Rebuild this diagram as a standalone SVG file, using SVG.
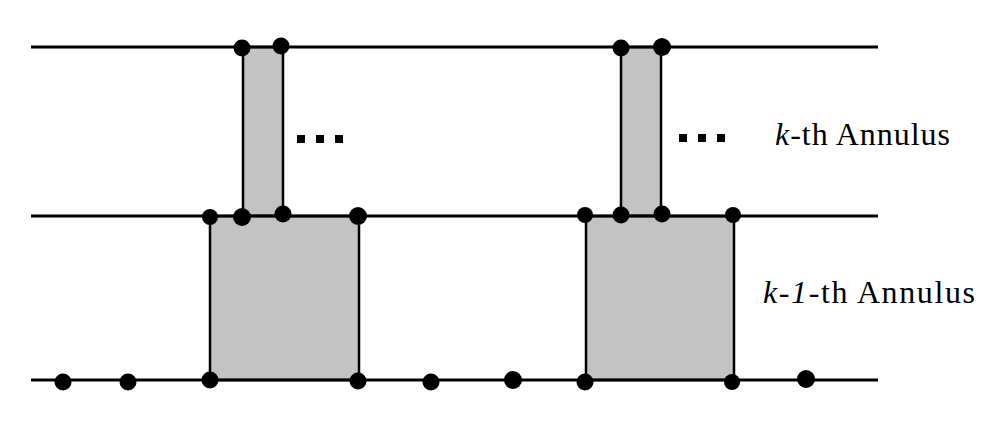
<svg xmlns="http://www.w3.org/2000/svg" width="995" height="427" viewBox="0 0 995 427">
<style>
.ln{stroke:#000;stroke-width:3;fill:none}
.reg{fill:#c3c3c3;stroke:#000;stroke-width:2.5}
.dot{fill:#000}
.sq{fill:#000}
.lbl{font-family:"Liberation Serif","DejaVu Serif",serif;font-size:32px;fill:#000}
</style>
<rect width="995" height="427" fill="#fff"/>
<g id="regions">
<rect id="strip-left" class="reg" x="243" y="47" width="40" height="169"/>
<rect id="box-left" class="reg" x="210" y="216" width="149" height="164"/>
<rect id="strip-right" class="reg" x="621" y="47" width="40" height="169"/>
<rect id="box-right" class="reg" x="586" y="216" width="148" height="164"/>
</g>
<g id="connectors">
<line class="ln" x1="31" y1="47" x2="878" y2="47"/>
<line class="ln" x1="31" y1="216" x2="878" y2="216"/>
<line class="ln" x1="31" y1="380" x2="878" y2="380"/>
</g>
<g id="dots">
<circle class="dot" cx="242" cy="48" r="8.5"/>
<circle class="dot" cx="281" cy="46" r="8.5"/>
<circle class="dot" cx="621" cy="48" r="8.5"/>
<circle class="dot" cx="662" cy="47" r="9"/>
<circle class="dot" cx="210" cy="217" r="8"/>
<circle class="dot" cx="242" cy="217" r="9"/>
<circle class="dot" cx="283" cy="214" r="8.5"/>
<circle class="dot" cx="358" cy="216" r="9"/>
<circle class="dot" cx="585" cy="215" r="8"/>
<circle class="dot" cx="621" cy="215" r="8.5"/>
<circle class="dot" cx="662" cy="214" r="8.5"/>
<circle class="dot" cx="733" cy="215" r="8"/>
<circle class="dot" cx="63" cy="382" r="8.5"/>
<circle class="dot" cx="128" cy="382" r="8.5"/>
<circle class="dot" cx="210" cy="380" r="8.5"/>
<circle class="dot" cx="358" cy="381" r="8.5"/>
<circle class="dot" cx="431" cy="382" r="8.5"/>
<circle class="dot" cx="513" cy="380" r="9"/>
<circle class="dot" cx="585" cy="382" r="8.5"/>
<circle class="dot" cx="732" cy="382" r="8"/>
<circle class="dot" cx="806" cy="379" r="9"/>
</g>
<g id="ellipsis-left">
<rect class="sq" x="297" y="135" width="8" height="8"/>
<rect class="sq" x="316" y="135" width="8" height="8"/>
<rect class="sq" x="335" y="135" width="8" height="8"/>
</g>
<g id="ellipsis-right">
<rect class="sq" x="679" y="134" width="8" height="8"/>
<rect class="sq" x="698" y="134" width="8" height="8"/>
<rect class="sq" x="717" y="134" width="8" height="8"/>
</g>
<g id="label-k">
<text class="lbl" x="775" y="145" textLength="175" lengthAdjust="spacing"><tspan font-style="italic">k</tspan>-th Annulus</text>
</g>
<g id="label-k1">
<text class="lbl" x="763" y="303" textLength="212" lengthAdjust="spacing"><tspan font-style="italic">k</tspan>-<tspan font-style="italic">1</tspan>-th Annulus</text>
</g>
</svg>
